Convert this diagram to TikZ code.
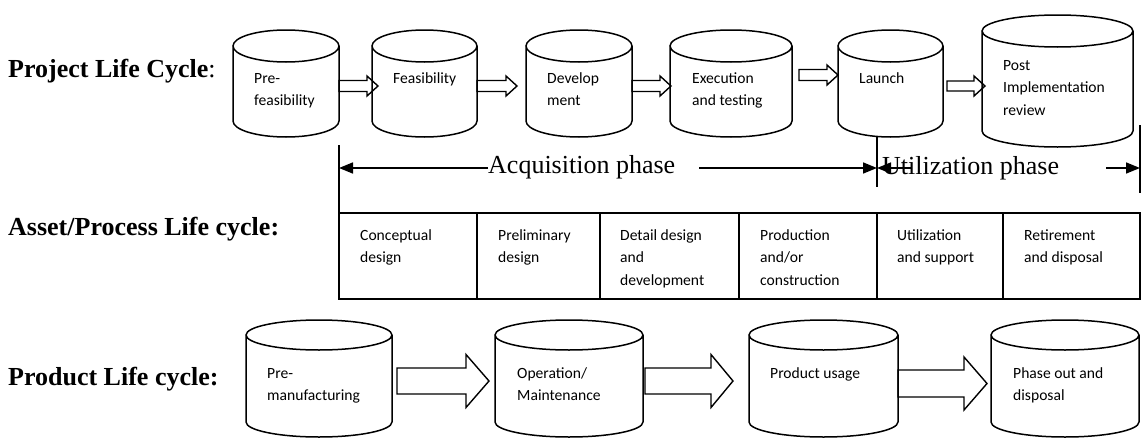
\documentclass[tikz,border=0pt]{standalone}
\usepackage{fontspec}
\setmainfont{Liberation Serif}
\newfontfamily\cellfont{Carlito}
\usetikzlibrary{calc,arrows.meta}

% left-aligned multi-line text whose baseline is its first line
\newcommand\celltext[1]{\begin{tabular}[t]{@{}l@{}}#1\end{tabular}}

% upright cylinder outline around an (invisible) rectangular node
% #1 = vertical radius of the end ellipses, #2 = node name
\newcommand\cylout[2][16]{%
  \draw[cylline] let \p1=(#2.north west), \p2=(#2.south east), \p3=(#2.north) in
    (\x1,{\y1-#1pt}) -- (\x1,{\y2+#1pt})
    arc[start angle=180, end angle=360, x radius={\x3-\x1}, y radius=#1pt]
    -- (\x2,{\y1-#1pt})
    (\x3,{\y1-#1pt}) ellipse[x radius={\x3-\x1}, y radius=#1pt];
}

% hollow block arrow from node #1 to node #2
% #3 = y of the axis, #4 = tail shift, #5 = tip shift,
% #6 = half shaft height, #7 = half head height, #8 = head length
\newcommand\blockarr[8]{%
  \draw[blk] let \p1=(#1.east), \p2=(#2.west) in
    ({\x1+(#4pt)},{-(#3pt)+(#6pt)})
    -- ({\x2+(#5pt)-(#8pt)},{-(#3pt)+(#6pt)})
    -- ({\x2+(#5pt)-(#8pt)},{-(#3pt)+(#7pt)})
    -- ({\x2+(#5pt)},{-(#3pt)})
    -- ({\x2+(#5pt)-(#8pt)},{-(#3pt)-(#7pt)})
    -- ({\x2+(#5pt)-(#8pt)},{-(#3pt)-(#6pt)})
    -- ({\x1+(#4pt)},{-(#3pt)-(#6pt)}) -- cycle;
}

\begin{document}
\begin{tikzpicture}[x=1pt,y=-1pt,
  cyl/.style={draw=none,inner sep=0pt,outer sep=0pt,anchor=north west},
  cylline/.style={line width=1.5pt},
  blk/.style={line width=1.4pt,line join=miter},
  btxt/.style={font=\cellfont\fontsize{15.6}{22.5}\selectfont,anchor=base west,inner sep=0pt},
  lbl/.style={font=\fontsize{26}{30}\selectfont,anchor=base west,inner sep=0pt},
  cellbox/.style={draw,line width=1.8pt,inner sep=0pt,outer sep=0pt,anchor=north west,minimum height=86pt},
  phasearrow/.style={line width=1.6pt,-{Triangle[length=14pt,width=11pt]}},
  tickline/.style={line width=1.6pt}
]
\fill[white] (0,0) rectangle (1141,439);
\useasboundingbox (0,0) rectangle (1141,439);

% ---------- row labels ----------
\node[lbl] (plc) at (8,77) {\textbf{Project Life Cycle}:};
\node[lbl] (aplc) at (8,235) {\textbf{Asset/Process Life cycle:}};
\node[lbl] (prlc) at (8,385) {\textbf{Product Life cycle:}};

% ---------- project life cycle ----------
\node[cyl,minimum width=106pt,minimum height=107pt] (c1) at (233,30) {};
\node[cyl,minimum width=105pt,minimum height=107pt] (c2) at (372,30) {};
\node[cyl,minimum width=106pt,minimum height=107pt] (c3) at (526,30) {};
\node[cyl,minimum width=122pt,minimum height=107pt] (c4) at (670,30) {};
\node[cyl,minimum width=105pt,minimum height=107pt] (c5) at (838,30) {};
\node[cyl,minimum width=151pt,minimum height=132pt] (c6) at (982,15) {};
\foreach \c in {c1,c2,c3,c4,c5,c6} {\cylout{\c}}

\node[btxt] (c1t) at ($(c1.north west)+(21,53)$) {\celltext{Pre-\\feasibility}};
\node[btxt] (c2t) at ($(c2.north west)+(21,53)$) {\celltext{Feasibility}};
\node[btxt] (c3t) at ($(c3.north west)+(21,53)$) {\celltext{Develop\\ment}};
\node[btxt] (c4t) at ($(c4.north west)+(22,53)$) {\celltext{Execution\\and testing}};
\node[btxt] (c5t) at ($(c5.north west)+(21,53)$) {\celltext{Launch}};
\node[btxt] (c6t) at ($(c6.north west)+(21,55)$) {\celltext{Post\\Implementation\\review}};

\blockarr{c1}{c2}{86}{0}{6}{5.5}{10}{11}
\blockarr{c2}{c3}{86}{0}{-9}{5.5}{10}{11}
\blockarr{c3}{c4}{86}{0}{1}{5.5}{10}{11}
\blockarr{c4}{c5}{75}{7}{0}{5.5}{10}{11}
\blockarr{c5}{c6}{86}{4}{3}{5}{10}{11}

% ---------- asset / process life cycle ----------
\node[cellbox,minimum width=138pt] (k1) at (339,213) {};
\node[cellbox,minimum width=123pt] (k2) at (k1.north east) {};
\node[cellbox,minimum width=139pt] (k3) at (k2.north east) {};
\node[cellbox,minimum width=138pt] (k4) at (k3.north east) {};
\node[cellbox,minimum width=126pt] (k5) at (k4.north east) {};
\node[cellbox,minimum width=137pt] (k6) at (k5.north east) {};

\node[btxt] (k1t) at ($(k1.north west)+(21,27)$) {\celltext{Conceptual\\design}};
\node[btxt] (k2t) at ($(k2.north west)+(21,27)$) {\celltext{Preliminary\\design}};
\node[btxt] (k3t) at ($(k3.north west)+(20,27)$) {\celltext{Detail design\\and\\development}};
\node[btxt] (k4t) at ($(k4.north west)+(21,27)$) {\celltext{Production\\and/or\\construction}};
\node[btxt] (k5t) at ($(k5.north west)+(20,27)$) {\celltext{Utilization\\and support}};
\node[btxt] (k6t) at ($(k6.north west)+(21,27)$) {\celltext{Retirement\\and disposal}};

% phase markers and arrows
\coordinate (acqL) at (339,168);
\coordinate (lm) at (877,168);
\coordinate (rm) at (1140,168);
\draw[tickline] (k1.north west) -- ++(0,-68);
\draw[tickline] (c5.south -| lm) -- ($(lm)+(0,19)$);
\draw[tickline] ($(rm)+(0,-43)$) -- ($(rm)+(0,25)$);

\node[lbl] (acq) at (488,173) {Acquisition phase};
\node[lbl] (util) at (882,174) {Utilization phase};
\draw[phasearrow] (acq.west |- acqL) -- (acqL);
\draw[phasearrow] ($(acq.east |- acqL)+(24,0)$) -- (lm);
\draw[phasearrow] ($(util.west |- lm)+(30,0)$) -- (lm);
\draw[phasearrow] ($(util.east |- rm)+(47,0)$) -- (rm);

% ---------- product life cycle ----------
\node[cyl,minimum width=146pt,minimum height=117pt] (p1) at (246,320) {};
\node[cyl,minimum width=148pt,minimum height=117pt] (p2) at (495,320) {};
\node[cyl,minimum width=149pt,minimum height=117pt] (p3) at (749,320) {};
\node[cyl,minimum width=148pt,minimum height=117pt] (p4) at (991,320) {};
\foreach \c in {p1,p2,p3,p4} {\cylout[15]{\c}}

\node[btxt] (p1t) at ($(p1.north west)+(21,58)$) {\celltext{Pre-\\manufacturing}};
\node[btxt] (p2t) at ($(p2.north west)+(22,58)$) {\celltext{Operation/\\Maintenance}};
\node[btxt] (p3t) at ($(p3.north west)+(21,58)$) {\celltext{Product usage}};
\node[btxt] (p4t) at ($(p4.north west)+(22,58)$) {\celltext{Phase out and\\disposal}};

\blockarr{p1}{p2}{381}{5}{-6}{13}{26.5}{23}
\blockarr{p2}{p3}{381}{2}{-16}{13}{26.5}{22}
\blockarr{p3}{p4}{383.5}{0}{-4}{13.5}{26.5}{23}
\end{tikzpicture}
\end{document}
